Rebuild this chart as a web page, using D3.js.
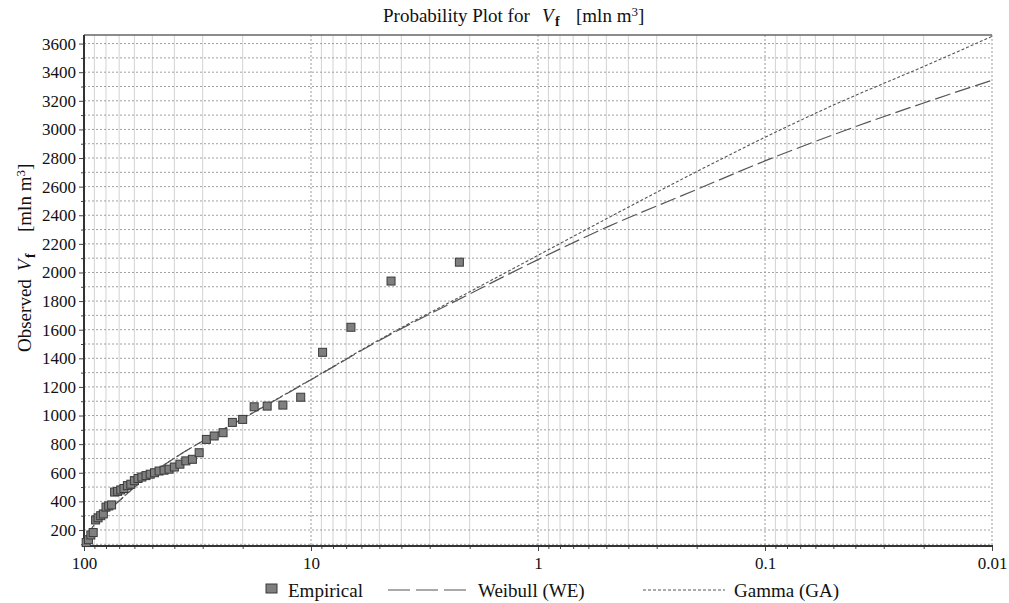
<!DOCTYPE html>
<html>
<head>
<meta charset="utf-8">
<script src="https://cdn.jsdelivr.net/npm/d3@7"></script>
<style>
  body { margin: 0; background: #fff; }
  text { font-family: "Liberation Serif", "Times New Roman", serif; fill: #111; }
</style>
</head>
<body>
<svg width="1009" height="603"></svg>
<script>
var empiricalP = [97.8, 95.6, 93.3, 91.1, 88.9, 86.7, 84.4, 82.2, 80.0, 77.8, 75.6,
  73.3, 71.1, 68.9, 66.7, 64.4, 62.2, 60.0, 57.8, 55.6, 53.3, 51.1, 48.9, 46.7, 44.4,
  42.2, 40.0, 37.8, 35.6, 33.3, 31.1, 28.9, 26.7, 24.4, 22.2, 20.0, 17.8, 15.6, 13.3,
  11.1, 8.89, 6.67, 4.44, 2.22];
// observed Vf [mln m3]
var empiricalV = [112, 132, 165, 182, 270, 285, 300, 312, 360, 368, 375,
  465, 470, 480, 490, 510, 520, 545, 560, 570, 580, 590, 600, 612, 618,
  625, 640, 660, 683, 694, 740, 833, 857, 880, 952, 973, 1061, 1066, 1073,
  1128, 1442, 1617, 1940, 2072];

// fitted curves, read at these probabilities
var curveP = [99, 95, 90, 80, 70, 60, 50, 40, 30, 20, 10, 5, 2, 1, 0.5, 0.2, 0.1, 0.05, 0.02, 0.01];
var weibullV = [125, 185, 235, 318, 403, 498, 598, 702, 822, 978, 1250, 1525, 1850, 2090, 2315, 2580, 2780, 2963, 3185, 3343];
var gammaV = [128, 187, 236, 318, 403, 498, 598, 702, 822, 980, 1252, 1530, 1865, 2120, 2375, 2705, 2945, 3170, 3440, 3650];

var yTicks = d3.range(200, 3601, 200);
var xTickLabels = ["100", "10", "1", "0.1", "0.01"];

var svg = d3.select("svg"),
  plotL = 84, plotR = 992, plotT = 35, plotB = 546;

var x = d3.scaleLog().domain([100, 0.01]).range([plotL, plotR]);
var y = d3.scaleLinear().domain([88, 3660]).range([plotB, plotT]);

var decades = [100, 10, 1, 0.1, 0.01];
var minors = [];
decades.slice(0, 4).forEach(function(d) {
  for (var k = 2; k <= 9; k++) minors.push(d / 10 * k);
});

// grid
var grid = svg.append("g");
grid.selectAll(".vminor")
  .data(minors)
  .enter().append("line")
  .attr("x1", function(d) { return x(d); })
  .attr("x2", function(d) { return x(d); })
  .attr("y1", plotT).attr("y2", plotB)
  .attr("stroke", "#d2d2d2").attr("stroke-width", 1);

grid.selectAll(".hgrid")
  .data(d3.range(100, 3601, 100))
  .enter().append("line")
  .attr("x1", plotL).attr("x2", plotR)
  .attr("y1", function(d) { return y(d); })
  .attr("y2", function(d) { return y(d); })
  .attr("stroke", "#a0a0a0").attr("stroke-dasharray", "2,2");

grid.selectAll(".vmajor")
  .data(decades.slice(1))
  .enter().append("line")
  .attr("x1", function(d) { return x(d); })
  .attr("x2", function(d) { return x(d); })
  .attr("y1", plotT).attr("y2", plotB)
  .attr("stroke", "#999").attr("stroke-dasharray", "2,2");

// frame
svg.append("line").attr("x1", plotL).attr("x2", plotR).attr("y1", plotT).attr("y2", plotT)
  .attr("stroke", "#666").attr("stroke-width", 1.5);

// axes
svg.append("g")
  .attr("transform", "translate(" + plotL + ",0)")
  .call(d3.axisLeft(y).tickValues(yTicks).tickSize(5).tickPadding(3).tickFormat(d3.format("d")));
svg.append("g")
  .attr("transform", "translate(" + plotL + ",0)")
  .call(d3.axisLeft(y).tickValues(d3.range(100, 3601, 200)).tickSize(3).tickFormat(""));

svg.append("g")
  .attr("transform", "translate(0," + plotB + ")")
  .call(d3.axisBottom(x).tickValues(decades).tickSize(5).tickPadding(6)
    .tickFormat(function(d, i) { return xTickLabels[i]; }));
svg.append("g")
  .attr("transform", "translate(0," + plotB + ")")
  .call(d3.axisBottom(x).tickValues(minors).tickSize(3).tickFormat(""));

svg.selectAll(".domain").remove();
svg.selectAll(".tick line").attr("stroke", "#444");
svg.selectAll(".tick text")
  .style("font-family", "Liberation Serif, serif")
  .style("font-size", "17px").attr("fill", "#111");

svg.append("line").attr("x1", plotL).attr("x2", plotL).attr("y1", plotT).attr("y2", plotB + 1)
  .attr("stroke", "#333").attr("stroke-width", 2);
svg.append("line").attr("x1", plotL).attr("x2", plotR + 1).attr("y1", plotB).attr("y2", plotB)
  .attr("stroke", "#333").attr("stroke-width", 2);

// curves
var line = d3.line()
  .x(function(d) { return x(d[0]); })
  .y(function(d) { return y(d[1]); })
  .curve(d3.curveMonotoneX);

svg.append("path")
  .datum(curveP.map(function(p, i) { return [p, gammaV[i]]; }))
  .attr("d", line)
  .attr("fill", "none").attr("stroke", "#555").attr("stroke-width", 1.1)
  .attr("stroke-dasharray", "3,2");

svg.append("path")
  .datum(curveP.map(function(p, i) { return [p, weibullV[i]]; }))
  .attr("d", line)
  .attr("fill", "none").attr("stroke", "#555").attr("stroke-width", 1.2)
  .attr("stroke-dasharray", "16,5");

// empirical points
svg.selectAll(".pt")
  .data(empiricalP.map(function(p, i) { return [p, empiricalV[i]]; }))
  .enter().append("rect")
  .attr("x", function(d) { return x(d[0]) - 4; })
  .attr("y", function(d) { return y(d[1]) - 4; })
  .attr("width", 8).attr("height", 8)
  .attr("fill", "#7f7f7f").attr("stroke", "#3a3a3a").attr("stroke-width", 1);

// title
var title = svg.append("text").attr("y", 22).style("font-size", "19px");
title.append("tspan").attr("x", 383).text("Probability Plot for");
title.append("tspan").attr("x", 542).style("font-style", "italic").text("V");
title.append("tspan").attr("x", 555).attr("dy", 4).style("font-weight", "bold").style("font-size", "14px").text("f");
title.append("tspan").attr("x", 576).attr("dy", -4).text("[mln m");
title.append("tspan").attr("dy", -6).style("font-size", "13px").text("3");
title.append("tspan").attr("dy", 6).text("]");

// y label
var ylab = svg.append("text")
  .attr("transform", "translate(31,0) rotate(-90)")
  .style("font-size", "19px");
ylab.append("tspan").attr("x", -352).text("Observed");
ylab.append("tspan").attr("x", -271).style("font-style", "italic").text("V");
ylab.append("tspan").attr("x", -258).attr("dy", 4).style("font-weight", "bold").style("font-size", "14px").text("f");
ylab.append("tspan").attr("x", -232).attr("dy", -4).text("[mln m");
ylab.append("tspan").attr("dy", -6).style("font-size", "13px").text("3");
ylab.append("tspan").attr("dy", 6).text("]");

// legend
var lg = svg.append("g").attr("transform", "translate(0,590)");
lg.append("rect").attr("x", 266).attr("y", -6).attr("width", 11).attr("height", 9)
  .attr("fill", "#7f7f7f").attr("stroke", "#3a3a3a");
lg.append("text").attr("x", 288).attr("y", 7).style("font-size", "19px").text("Empirical");
lg.append("line").attr("x1", 388).attr("x2", 468).attr("y1", 0).attr("y2", 0)
  .attr("stroke", "#555").attr("stroke-width", 1.2).attr("stroke-dasharray", "22,6");
lg.append("text").attr("x", 478).attr("y", 7).style("font-size", "19px").text("Weibull (WE)");
lg.append("line").attr("x1", 643).attr("x2", 725).attr("y1", 0).attr("y2", 0)
  .attr("stroke", "#555").attr("stroke-width", 1).attr("stroke-dasharray", "3,2");
lg.append("text").attr("x", 734).attr("y", 7).style("font-size", "19px").text("Gamma (GA)");
</script>
</body>
</html>
